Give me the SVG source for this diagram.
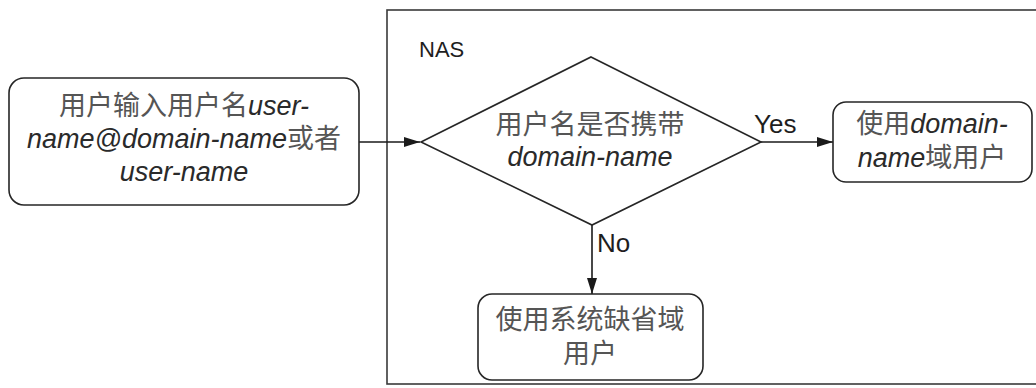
<svg xmlns="http://www.w3.org/2000/svg" width="1036" height="388" viewBox="0 0 1036 388">
  <style>
    .box { fill: #ffffff; stroke: #262626; stroke-width: 1.6; }
    .frame { fill: #ffffff; stroke: #3a3a3a; stroke-width: 1.6; }
    .edge { fill: none; stroke: #1a1a1a; stroke-width: 1.6; }
    .t { font-family: "Liberation Sans", "Noto Sans CJK SC", sans-serif; font-size: 27px; fill: #2a2a2a; text-anchor: middle; }
    .lbl { font-family: "Liberation Sans", "Noto Sans CJK SC", sans-serif; font-size: 26px; fill: #1e1e1e; }
    .it { font-style: italic; }
    .cjk { fill: #555555; }
  </style>
  <defs>
    <marker id="arrow" viewBox="0 0 16 10" refX="16" refY="5" markerWidth="16" markerHeight="10" markerUnits="userSpaceOnUse" orient="auto">
      <path d="M0,0 L16,5 L0,10 Z" fill="#1a1a1a"/>
    </marker>
  </defs>

  <!-- NAS container -->
  <g id="nas">
    <rect class="frame" x="387" y="10" width="700" height="374"/>
    <text class="lbl" x="419" y="57" style="font-size:22px">NAS</text>
  </g>

  <!-- connectors -->
  <g id="connectors">
    <line class="edge" x1="359" y1="142" x2="420" y2="142" marker-end="url(#arrow)"/>
    <line class="edge" x1="761" y1="142" x2="833" y2="142" marker-end="url(#arrow)"/>
    <line class="edge" x1="592" y1="225" x2="592" y2="294" marker-end="url(#arrow)"/>
    <text class="lbl" x="754" y="133">Yes</text>
    <text class="lbl" x="597" y="252">No</text>
  </g>

  <!-- input node -->
  <g id="input">
    <rect class="box" x="9" y="78" width="350" height="127" rx="15" ry="15"/>
    <text class="t" x="184" y="115"><tspan class="cjk">用户输入用户名</tspan><tspan class="it">user-</tspan></text>
    <text class="t" x="184" y="148"><tspan class="it">name@domain-name</tspan><tspan class="cjk">或者</tspan></text>
    <text class="t" x="184" y="181"><tspan class="it">user-name</tspan></text>
  </g>

  <!-- decision node -->
  <g id="decision">
    <polygon class="box" points="591,57 761,142 592,225 421,142"/>
    <text class="t" x="590" y="134"><tspan class="cjk">用户名是否携带</tspan></text>
    <text class="t" x="590" y="166"><tspan class="it">domain-name</tspan></text>
  </g>

  <!-- domain user node -->
  <g id="domain-user">
    <rect class="box" x="833" y="102" width="199" height="80" rx="13" ry="13"/>
    <text class="t" x="932" y="133"><tspan class="cjk">使用</tspan><tspan class="it">domain-</tspan></text>
    <text class="t" x="932" y="167"><tspan class="it">name</tspan><tspan class="cjk">域用户</tspan></text>
  </g>

  <!-- default domain user node -->
  <g id="default-user">
    <rect class="box" x="478" y="294" width="225" height="86" rx="14" ry="14"/>
    <text class="t" x="590" y="329"><tspan class="cjk">使用系统缺省域</tspan></text>
    <text class="t" x="590" y="363"><tspan class="cjk">用户</tspan></text>
  </g>
</svg>
